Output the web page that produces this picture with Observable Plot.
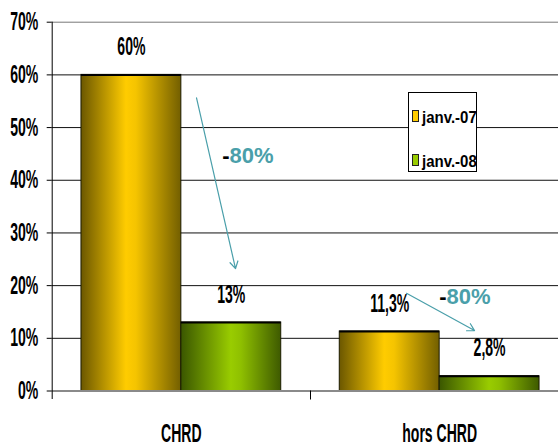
<!DOCTYPE html>
<html><head><meta charset="utf-8">
<script src="https://cdn.jsdelivr.net/npm/d3@7"></script>
<script src="https://cdn.jsdelivr.net/npm/@observablehq/plot@0.6"></script>
<style>
body{margin:0;background:#fff;}
#chart{position:relative;width:558px;height:445px;overflow:hidden;}
.legend{position:absolute;left:408px;top:92px;width:69px;height:80px;border:1px solid #000;background:#fff;box-sizing:border-box;
  font-family:"Liberation Sans",Arial,sans-serif;font-weight:bold;font-size:15px;color:#000;}
.item{position:absolute;left:3px;display:flex;align-items:center;height:16px;white-space:nowrap;}
.sw{width:5px;height:10px;border:1px solid #222;margin-right:3px;flex:none;}
.lt{display:inline-block;transform:scaleY(1.15);}
</style></head><body><div id="chart"></div>
<script>
// ---- data ----
const categories = ["CHRD", "hors CHRD"];
const series = ["janv.-07", "janv.-08"];
const values07 = [0.60, 0.113];
const values08 = [0.13, 0.028];
const labels07 = ["60%", "11,3%"];
const labels08 = ["13%", "2,8%"];
const yTicks = [0, 0.1, 0.2, 0.3, 0.4, 0.5, 0.6, 0.7];
const changeText = ["80%", "80%"];
// annotation anchors, in (category units, value)
const noteX = [0.6865, 1.5265];
const noteY = [0.4456, 0.178];
const arrowX1 = [0.5587, 1.3717];
const arrowY1 = [0.5565, 0.1854];
const arrowX2 = [0.7097, 1.635];
const arrowY2 = [0.2323, 0.1147];

// ---- styles ----
const sans = "Liberation Sans, Arial, sans-serif";
const teal = "#4a9faa";
const gradId = {"janv.-07": "url(#g07)", "janv.-08": "url(#g08)"};
const swatch = {"janv.-07": "#ffcc00", "janv.-08": "#99cc00"};

const rows = categories.flatMap((c, i) => series.map((s, j) => ({
  cat: c, i, series: s,
  value: j === 0 ? values07[i] : values08[i],
  label: j === 0 ? labels07[i] : labels08[i]
})));
const sb = d3.scaleBand(series, [0, 1]).paddingInner(0).paddingOuter(0.293);
const bx1 = d => d.i + sb(d.series);
const bx2 = d => d.i + sb(d.series) + sb.bandwidth();
const bxc = d => d.i + sb(d.series) + sb.bandwidth() / 2;

const notes = changeText.map((t, k) => ({t, x: noteX[k], y: noteY[k]}));
const arrows = arrowX1.map((x, k) => ({x1: x, y1: arrowY1[k], x2: arrowX2[k], y2: arrowY2[k]}));

// "narrow" labels: drawn in Liberation Sans bold, later squeezed/stretched
const narrowStyle = {fontSize: 18, fontWeight: "bold", fontFamily: "Liberation Sans", fill: "#000", stroke: null};

const plot = Plot.plot({
  width: 558, height: 445,
  marginLeft: 51.7, marginRight: 0, marginTop: 21.7, marginBottom: 54.5,
  x: {type: "linear", domain: [0, 2], range: [51.7, 568.3], axis: null},
  y: {domain: [0, 0.7], range: [390.5, 21.7], axis: null},
  color: {type: "identity"},
  marks: [
    Plot.gridY({ticks: yTicks.slice(1, 7), stroke: "#111", strokeOpacity: 1}),
    Plot.ruleY([0.7], {stroke: "#777"}),
    Plot.rectY(rows, {x1: bx1, x2: bx2, y1: 0, y2: "value", fill: d => gradId[d.series], stroke: "#1a1a00", strokeWidth: 1}),
    Plot.ruleY(rows, {y: "value", x1: bx1, x2: bx2, stroke: "#000", strokeWidth: 2}),
    Plot.ruleY([0], {stroke: "#8a8a8a", strokeWidth: 2}),
    Plot.ruleX([0], {y1: 0.7, y2: 0, insetBottom: -8.5, stroke: "#000"}),
    Plot.axisY({ticks: yTicks, tickFormat: d3.format(".0%"), tickSize: 5, tickPadding: 9, label: null,
      fontSize: 18, fontWeight: "bold", fontFamily: "Liberation Sans"}),
    Plot.axisX({ticks: [1], tickSize: 9, tickFormat: () => "", label: null}),
    Plot.text(categories, {x: (d, i) => i + 0.5, y: 0, text: d => d, dy: 43, ...narrowStyle}),
    Plot.text(rows, {x: bxc, y: "value", text: "label", dy: -28, ...narrowStyle}),
    Plot.arrow(arrows, {x1: "x1", y1: "y1", x2: "x2", y2: "y2", stroke: teal, strokeWidth: 1.2, headLength: 10}),
    Plot.text(notes, {x: "x", y: "y", text: () => "-", textAnchor: "end",
      fontSize: 22, fontWeight: "bold", fontFamily: sans, fill: "#000"}),
    Plot.text(notes, {x: "x", y: "y", text: "t", textAnchor: "start",
      fontSize: 22, fontWeight: "bold", fontFamily: sans, fill: teal})
  ]
});

const svg = d3.select(plot);
const defs = svg.insert("defs", ":first-child");
const g1 = defs.append("linearGradient").attr("id", "g07").attr("x1", "0").attr("x2", "1").attr("y1", "0").attr("y2", "0");
[[0, "#6b5700"], [0.45, "#ffcc00"], [0.55, "#f5c400"], [1, "#735f00"]].forEach(([o, c]) => g1.append("stop").attr("offset", o).attr("stop-color", c));
const g2 = defs.append("linearGradient").attr("id", "g08").attr("x1", "0").attr("x2", "1").attr("y1", "0").attr("y2", "0");
[[0, "#3a5600"], [0.5, "#99cc00"], [0.6, "#8fc000"], [1, "#3e5a00"]].forEach(([o, c]) => g2.append("stop").attr("offset", o).attr("stop-color", c));

// condensed + tall look of the original labels (Arial Narrow-like)
svg.selectAll('[font-family="Liberation Sans"] text').each(function() {
  const t = d3.select(this);
  const tr = t.attr("transform");
  if (tr) t.attr("transform", tr + " scale(0.78,1.4)");
  else {
    const x = +t.attr("x") || 0, y = +t.attr("y") || 0;
    t.attr("transform", `translate(${x},${y}) scale(0.78,1.4) translate(${-x},${-y})`);
  }
});

const chart = document.getElementById("chart");
chart.appendChild(plot);

// legend inside plot area
const lg = document.createElement("div");
lg.className = "legend";
series.forEach((s, k) => {
  const it = document.createElement("div");
  it.className = "item";
  it.style.top = (k === 0 ? 15 : 59) + "px";
  it.innerHTML = `<span class="sw" style="background:${swatch[s]}"></span><span class="lt">${s}</span>`;
  lg.appendChild(it);
});
chart.appendChild(lg);
</script></body></html>
